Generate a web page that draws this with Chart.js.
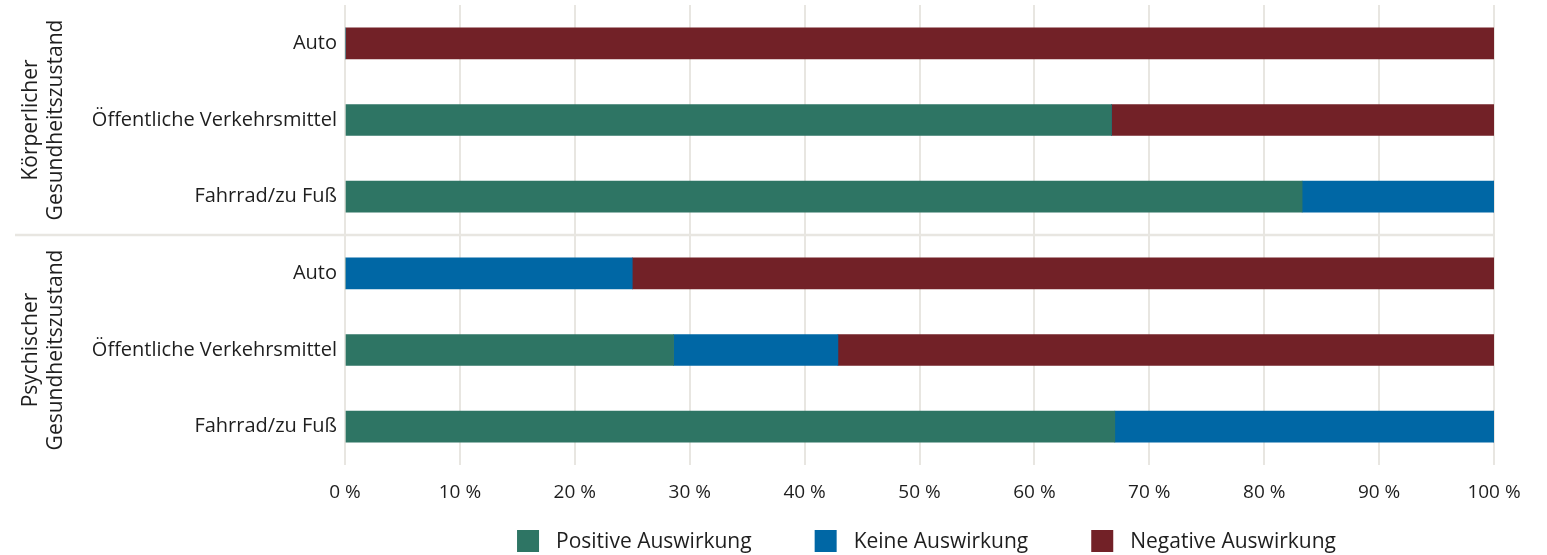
<!DOCTYPE html>
<html lang="de">
<head>
<meta charset="utf-8">
<script src="https://cdn.jsdelivr.net/npm/chart.js@4"></script>
<style>
  html, body { margin: 0; padding: 0; background: #ffffff; }
  #wrap { width: 1547px; height: 555px; position: relative; }
</style>
</head>
<body>
<div id="wrap"><canvas id="myChart"></canvas></div>
<script>
const categories = ["Auto", "Öffentliche Verkehrsmittel", "Fahrrad/zu Fuß", "Auto", "Öffentliche Verkehrsmittel", "Fahrrad/zu Fuß"];
const groups = [
    { lines: ["Körperlicher", "Gesundheitszustand"], from: 0, to: 2 },
    { lines: ["Psychischer", "Gesundheitszustand"], from: 3, to: 5 }
];
const positive = [0, 66.7, 83.3, 0, 28.6, 67.0];
const keine = [0, 0, 16.7, 25.0, 14.3, 33.0];
const negative = [100, 33.3, 0, 75.0, 57.1, 0];
const seriesNames = ["Positive Auswirkung", "Keine Auswirkung", "Negative Auswirkung"];
const xTickLabels = ["0 %", "10 %", "20 %", "30 %", "40 %", "50 %", "60 %", "70 %", "80 %", "90 %", "100 %"];

const green = "#2e7564";
const blue = "#0067a5";
const red = "#722127";
const gridColor = "#e8e6e1";
const textColor = "#1e1e1e";
const fontFamily = "'Open Sans', sans-serif";

const ctx = document.getElementById("myChart");

// group labels on the left + divider line between the two groups
const groupPlugin = {
    id: "groupPlugin",
    afterDraw(chart) {
        const c = chart.ctx;
        const y = chart.scales.y;
        const area = chart.chartArea;
        c.save();
        // divider
        const midY = (y.getPixelForValue(2) + y.getPixelForValue(3)) / 2;
        c.strokeStyle = gridColor;
        c.lineWidth = 2.5;
        c.beginPath();
        c.moveTo(15, midY);
        c.lineTo(area.right, midY);
        c.stroke();
        // rotated group titles
        c.fillStyle = textColor;
        c.font = "21px " + fontFamily;
        c.textAlign = "center";
        c.textBaseline = "middle";
        groups.forEach(g => {
            const cy = (y.getPixelForValue(g.from) + y.getPixelForValue(g.to)) / 2;
            g.lines.forEach((line, i) => {
                c.save();
                c.translate(31 + i * 25, cy);
                c.rotate(-Math.PI / 2);
                c.fillText(line, 0, 0);
                c.restore();
            });
        });
        c.restore();
    }
};

// legend drawn under the plot, centred on the plot area
const legendPlugin = {
    id: "legendPlugin",
    afterDraw(chart) {
        const c = chart.ctx;
        const area = chart.chartArea;
        const box = 22, gap = 17, spacing = 63;
        c.save();
        c.font = "21px " + fontFamily;
        const items = chart.data.datasets.map(ds => ({
            text: ds.label,
            color: ds.backgroundColor,
            w: box + gap + c.measureText(ds.label).width
        }));
        const total = items.reduce((s, it) => s + it.w, 0) + spacing * (items.length - 1);
        let x = (area.left + area.right) / 2 + 7 - total / 2;
        const cy = chart.height - 14;
        items.forEach(it => {
            c.fillStyle = it.color;
            c.fillRect(x, cy - box / 2, box, box);
            c.fillStyle = textColor;
            c.textAlign = "left";
            c.textBaseline = "middle";
            c.fillText(it.text, x + box + gap, cy + 1);
            x += it.w + spacing;
        });
        c.restore();
    }
};

const chart = new Chart(ctx, {
    type: "bar",
    data: {
        labels: categories,
        datasets: [
            { label: seriesNames[0], data: positive, backgroundColor: green, barThickness: 31 },
            { label: seriesNames[1], data: keine, backgroundColor: blue, barThickness: 31 },
            { label: seriesNames[2], data: negative, backgroundColor: red, barThickness: 31 }
        ]
    },
    options: {
        indexAxis: "y",
        responsive: true,
        maintainAspectRatio: false,
        animation: false,
        layout: {
            padding: { left: 0, right: 53, top: 5, bottom: 45 }
        },
        plugins: {
            legend: { display: false },
            tooltip: { enabled: false }
        },
        scales: {
            x: {
                stacked: true,
                min: 0,
                max: 100,
                ticks: {
                    stepSize: 10,
                    padding: 16,
                    color: textColor,
                    font: { family: fontFamily, size: 19 },
                    callback: (val) => xTickLabels[Math.round(val / 10)]
                },
                grid: {
                    color: gridColor,
                    lineWidth: 2,
                    drawTicks: false
                },
                border: { display: false },
                afterFit: (scale) => { scale.height = 45; }
            },
            y: {
                stacked: true,
                ticks: {
                    padding: 8,
                    color: textColor,
                    font: { family: fontFamily, size: 20 }
                },
                grid: { display: false, drawTicks: false },
                border: { display: false },
                afterFit: (scale) => {
                    scale.width = 345;
                    scale.paddingTop = 0;
                    scale.paddingBottom = 0;
                }
            }
        }
    },
    plugins: [groupPlugin, legendPlugin]
});
</script>
</body>
</html>
